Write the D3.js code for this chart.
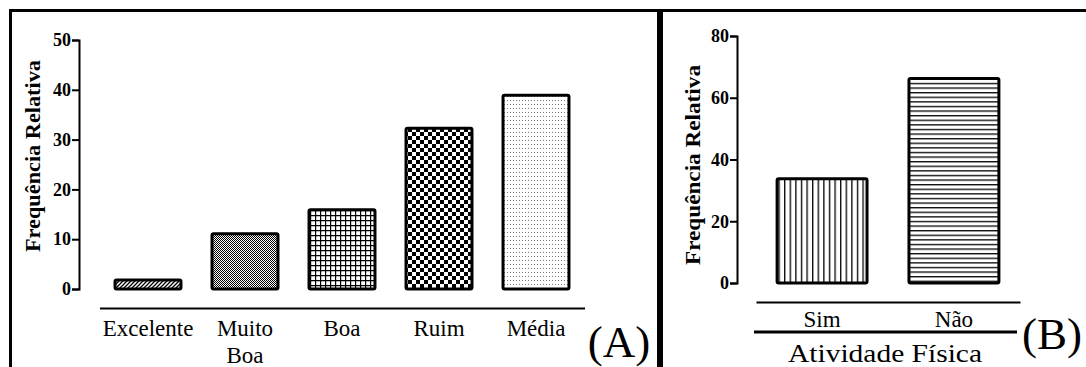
<!DOCTYPE html>
<html>
<head>
<meta charset="utf-8">
<script src="https://cdn.jsdelivr.net/npm/d3@7"></script>
<style>
  body { margin: 0; background: #fff; }
</style>
</head>
<body>
<div id="chart"></div>
<script>
// painel A - autoavaliação de saúde
const catsA = ["Excelente", "Muito Boa", "Boa", "Ruim", "Média"];
const valsA = [1.8, 11.1, 15.9, 32.3, 38.9];
const ticksA = [0, 10, 20, 30, 40, 50];
const fillsA = ["diag", "fine", "grid", "check", "dots"];

// painel B - atividade física
const catsB = ["Sim", "Não"];
const valsB = [33.8, 66.2];
const ticksB = [0, 20, 40, 60, 80];
const fillsB = ["vert", "horiz"];

const W = 1086, H = 367;
const FONT = "'Liberation Serif', 'Times New Roman', serif";
const svg = d3.select("#chart").append("svg").attr("width", W).attr("height", H)
  .style("font-family", FONT);

// padrões de preenchimento
const defs = svg.append("defs");
function pattern(id, w, h) {
  const p = defs.append("pattern").attr("id", id)
    .attr("patternUnits", "userSpaceOnUse").attr("width", w).attr("height", h);
  p.append("rect").attr("width", w).attr("height", h).attr("fill", "#fff");
  return p;
}
pattern("diag", 4, 4).append("path")
  .attr("d", "M-1,1 L1,-1 M0,4 L4,0 M3,5 L5,3")
  .attr("stroke", "#000").attr("stroke-width", 1.3);
const fine = pattern("fine", 2, 2);
fine.append("rect").attr("width", 1).attr("height", 1).attr("fill", "#000");
fine.append("rect").attr("x", 1).attr("y", 1).attr("width", 1).attr("height", 1).attr("fill", "#000");
const grid = pattern("grid", 5, 5);
grid.append("path").attr("d", "M0.5,0 V5 M0,0.5 H5").attr("stroke", "#000").attr("stroke-width", 1.4);
const check = pattern("check", 8, 8);
check.append("rect").attr("width", 4).attr("height", 4).attr("fill", "#000");
check.append("rect").attr("x", 4).attr("y", 4).attr("width", 4).attr("height", 4).attr("fill", "#000");
pattern("dots", 3, 4).append("rect").attr("width", 1).attr("height", 1).attr("fill", "#777");
pattern("vert", 5.6, 5).append("path").attr("d", "M0.7,0 V5").attr("stroke", "#000").attr("stroke-width", 1.3);
pattern("horiz", 5, 4.6).append("path").attr("d", "M0,0.7 H5").attr("stroke", "#000").attr("stroke-width", 1.3);

// molduras
svg.append("rect").attr("x", 10.5).attr("y", 10.5).attr("width", 648).attr("height", 400)
  .attr("fill", "none").attr("stroke", "#000").attr("stroke-width", 3);
svg.append("rect").attr("x", 661.5).attr("y", 10.5).attr("width", 500).attr("height", 400)
  .attr("fill", "none").attr("stroke", "#000").attr("stroke-width", 3);

function panel(cfg) {
  const g = svg.append("g");
  const y = d3.scaleLinear().domain(cfg.ydom).range(cfg.yrange);
  const x = d3.scaleBand().domain(cfg.cats).range(cfg.xrange)
    .paddingInner(cfg.pin).paddingOuter(cfg.pout);

  // eixo y
  const ya = g.append("g").attr("transform", `translate(${cfg.yx},0)`)
    .call(d3.axisLeft(y).tickValues(cfg.ticks).tickSize(7).tickSizeOuter(7).tickPadding(1))
    .attr("font-family", null);
  ya.select(".domain").attr("stroke-width", 2);
  ya.selectAll(".tick line").attr("stroke-width", 2);
  ya.selectAll(".tick text").style("font-family", FONT)
    .attr("font-weight", "bold").attr("font-size", 18).attr("fill", "#000");

  // barras
  g.selectAll("rect.bar").data(cfg.vals).join("rect").attr("class", "bar")
    .attr("x", (d, i) => x(cfg.cats[i]))
    .attr("y", d => y(d))
    .attr("width", x.bandwidth())
    .attr("height", d => y(0) - y(d))
    .attr("rx", 1.5)
    .attr("fill", (d, i) => `url(#${cfg.fills[i]})`)
    .attr("stroke", "#000").attr("stroke-width", 3);

  // eixo x (linha abaixo das barras)
  const xa = g.append("g").attr("transform", `translate(0,${cfg.axisY})`)
    .call(d3.axisBottom(x).tickSize(0).tickSizeOuter(0).tickPadding(cfg.tpad))
    .attr("font-family", null);
  xa.select(".domain").attr("stroke-width", 2);
  xa.selectAll(".tick text").style("font-family", FONT)
    .attr("font-size", 23).attr("fill", "#000")
    .each(function (d) {
      const words = d.split(" ");
      if (words.length < 2) return;
      const t = d3.select(this).text(null);
      words.forEach((w, i) => {
        t.append("tspan").attr("x", 0).attr("dy", i ? 27 : "0.71em").text(w);
      });
    });

  // título do eixo y
  g.append("text").style("font-family", FONT)
    .attr("transform", `translate(${cfg.lab[0]},${cfg.lab[1]}) rotate(-90)`)
    .attr("text-anchor", "middle").attr("font-weight", "bold").attr("font-size", 21)
    .attr("textLength", cfg.lab[2]).attr("lengthAdjust", "spacingAndGlyphs")
    .text("Frequência Relativa");
  return g;
}

panel({
  cats: catsA, vals: valsA, ticks: ticksA, fills: fillsA,
  ydom: [0, 50], yrange: [289, 40], yx: 79,
  xrange: [99.5, 584.5], pin: 0.32, pout: 0.16,
  axisY: 308, tpad: 11.4, lab: [40, 156, 192]
});

const gB = panel({
  cats: catsB, vals: valsB, ticks: ticksB, fills: fillsB,
  ydom: [0, 80], yrange: [283, 36], yx: 737,
  xrange: [756, 1020], pin: 0.318, pout: 0.16,
  axisY: 302, tpad: 8.4, lab: [700, 165, 200]
});

// segunda linha e título do eixo x do painel B
gB.append("line").attr("x1", 754).attr("x2", 1017).attr("y1", 332).attr("y2", 332)
  .attr("stroke", "#000").attr("stroke-width", 3);
gB.append("text").attr("x", 885).attr("y", 362).attr("text-anchor", "middle")
  .attr("font-size", 26).attr("textLength", 194).attr("lengthAdjust", "spacingAndGlyphs")
  .text("Atividade Física");

// rótulos dos painéis
svg.append("text").attr("x", 619).attr("y", 357).attr("text-anchor", "middle")
  .attr("font-size", 45).text("(A)");
svg.append("text").attr("x", 1022).attr("y", 349)
  .attr("font-size", 45).text("(B)");
</script>
</body>
</html>
